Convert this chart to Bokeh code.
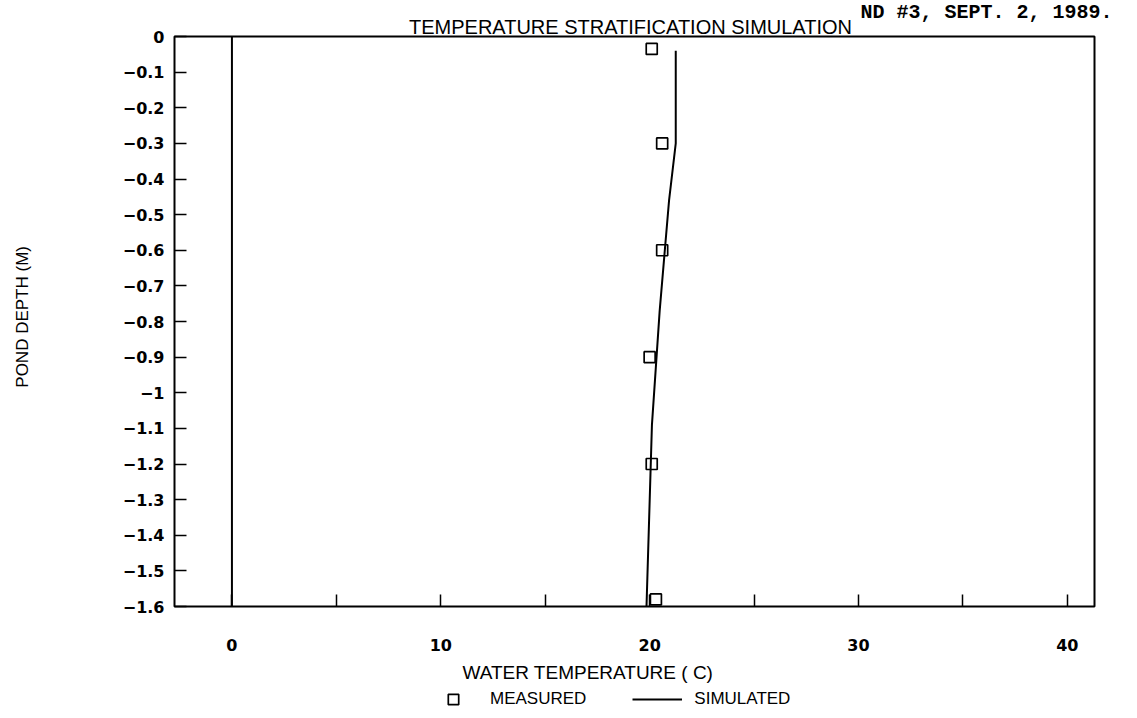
import math
from bokeh.plotting import figure
from bokeh.models import (FixedTicker, Label, Legend, LegendItem, Range1d,
                          LinearAxis, BoxAnnotation)
from bokeh.embed import file_html
from bokeh.resources import INLINE

# ---------------- data ----------------
title_text = "TEMPERATURE STRATIFICATION SIMULATION"
header_text = "ND #3, SEPT. 2, 1989."
x_title = "WATER TEMPERATURE  ( C)"
y_title = "POND DEPTH  (M)"
legend_labels = ["MEASURED", "SIMULATED"]

meas_temp = [20.1, 20.6, 20.6, 20.0, 20.1, 20.3]
meas_depth = [-0.035, -0.30, -0.60, -0.90, -1.20, -1.58]

sim_temp = [21.25, 21.25, 20.93, 20.48, 20.11, 19.85]
sim_depth = [-0.04, -0.30, -0.46, -0.77, -1.09, -1.60]

temp_limits = [-2.75, 41.3]
depth_limits = [-1.6, 0.0]

x_ticks = [0, 10, 20, 30, 40]
x_minor_ticks = [5, 15, 25, 35]
y_ticks = [0.0, -0.1, -0.2, -0.3, -0.4, -0.5, -0.6, -0.7, -0.8,
           -0.9, -1.0, -1.1, -1.2, -1.3, -1.4, -1.5, -1.6]
y_tick_labels = ["0", "\u22120.1", "\u22120.2", "\u22120.3", "\u22120.4", "\u22120.5",
                 "\u22120.6", "\u22120.7", "\u22120.8", "\u22120.9", "\u22121", "\u22121.1",
                 "\u22121.2", "\u22121.3", "\u22121.4", "\u22121.5", "\u22121.6"]

# ---------------- layout (pixels) ----------------
W, H = 1137, 718
BOX_L, BOX_R, BOX_T, BOX_B = 174, 1094, 36, 606
SX = (BOX_R - BOX_L) / (temp_limits[1] - temp_limits[0])
SY = (BOX_B - BOX_T) / (depth_limits[1] - depth_limits[0])
x_start = temp_limits[0] - BOX_L / SX
x_end = temp_limits[1] + (W - BOX_R) / SX
y_end = depth_limits[1] + BOX_T / SY
y_start = depth_limits[0] - (H - BOX_B) / SY


def dx(px):
    return x_start + px / SX


def dy(py):
    return y_end - py / SY


FONT_TICK = "DejaVu Sans"
FONT_TEXT = "Liberation Sans"

p = figure(width=W, height=H, output_backend="svg", toolbar_location=None,
           x_range=Range1d(x_start, x_end), y_range=Range1d(y_start, y_end),
           x_axis_type=None, y_axis_type=None, title=None,
           min_border=0, min_border_left=0, min_border_right=0,
           min_border_top=0, min_border_bottom=0)
p.xgrid.visible = False
p.ygrid.visible = False
p.outline_line_color = None
p.background_fill_color = "white"
p.border_fill_color = "white"

# plot box
p.add_layout(BoxAnnotation(left=temp_limits[0], right=temp_limits[1],
                           bottom=depth_limits[0], top=depth_limits[1],
                           fill_alpha=0, line_color="black", line_width=2,
                           line_alpha=1))

# axes at the plot box edges
xax = LinearAxis(fixed_location=depth_limits[0],
                 ticker=FixedTicker(ticks=x_ticks, minor_ticks=x_minor_ticks))
yax = LinearAxis(fixed_location=temp_limits[0],
                 ticker=FixedTicker(ticks=y_ticks, minor_ticks=[]))
yax.major_label_overrides = {t: l for t, l in zip(y_ticks, y_tick_labels)}
for ax in (xax, yax):
    ax.axis_line_color = None
    ax.major_tick_in = 12
    ax.major_tick_out = 0
    ax.minor_tick_in = 12
    ax.minor_tick_out = 0
    ax.major_tick_line_width = 1.5
    ax.minor_tick_line_width = 1.5
    ax.major_tick_line_color = "black"
    ax.minor_tick_line_color = "black"
    ax.major_label_text_font = FONT_TICK
    ax.major_label_text_font_size = "16px"
    ax.major_label_text_font_style = "bold"
    ax.major_label_text_color = "black"
xax.major_label_standoff = 32
yax.major_label_standoff = 10
p.add_layout(xax, "below")
p.add_layout(yax, "left")

# zero line (x = 0 across the depth range)
p.line([0, 0], depth_limits, line_color="black", line_width=2)

# data
ln = p.line(sim_temp, sim_depth, line_color="black", line_width=2)
sq = p.scatter(meas_temp, meas_depth, marker="square", size=11,
               fill_color=None, line_color="black", line_width=1.7)

# texts
p.add_layout(Label(x=dx(630), y=dy(26), text=title_text, text_align="center",
                   text_baseline="alphabetic", text_font=FONT_TEXT,
                   text_font_size="20px", text_color="black"))
p.add_layout(Label(x=dx(1112), y=dy(12), text=header_text, text_align="right",
                   text_baseline="alphabetic", text_font="Liberation Mono",
                   text_font_size="20px", text_font_style="bold",
                   text_color="black"))
p.add_layout(Label(x=dx(590), y=dy(672), text=x_title, text_align="center",
                   text_baseline="middle", text_font=FONT_TEXT,
                   text_font_size="19px", text_color="black"))
p.add_layout(Label(x=dx(22), y=dy(314), text=y_title, text_align="center",
                   text_baseline="middle", angle=math.pi / 2, text_font=FONT_TEXT,
                   text_font_size="17px", text_color="black"))

legend = Legend(items=[LegendItem(label=legend_labels[0], renderers=[sq]),
                       LegendItem(label=legend_labels[1], renderers=[ln])],
                orientation="horizontal", location=(428, H - 712),
                glyph_width=50, glyph_height=26, label_standoff=12, spacing=46,
                padding=0, margin=0, border_line_color=None,
                background_fill_alpha=0, label_text_font=FONT_TEXT,
                label_text_font_size="17px", label_text_color="black")
p.add_layout(legend, "center")

open("out.html", "w").write(file_html(p, INLINE))
